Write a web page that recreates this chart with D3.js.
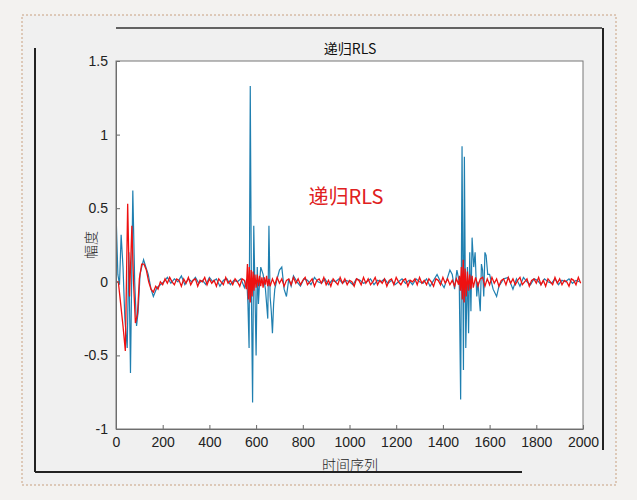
<!DOCTYPE html>
<html><head><meta charset="utf-8">
<script src="https://d3js.org/d3.v7.min.js"></script>
<style>body{margin:0;background:#f3f2f0}</style></head>
<body><svg id="c" width="637" height="500"></svg>
<script>
const title="递归RLS", annot="递归RLS", xLabel="时间序列", yLabel="幅度";
const xTicks=[0,200,400,600,800,1000,1200,1400,1600,1800,2000];
const yTicks=[-1,-0.5,0,0.5,1,1.5];
const blueX=[0,8,15,22,30,38,48,55,62,72,80,88,95,103,110,118,128,138,150,160,175,190,205,220,235,250,265,280,295,310,325,340,355,370,385,400,415,430,445,460,475,490,505,520,535,550,560,565,570,575,580,585,590,595,600,605,610,615,620,630,640,650,655,660,665,670,675,680,690,700,710,720,730,740,750,760,775,790,805,820,835,850,865,880,895,910,925,940,955,970,985,1000,1015,1030,1045,1060,1075,1090,1105,1120,1135,1150,1165,1180,1195,1210,1225,1240,1255,1270,1285,1300,1315,1330,1345,1360,1375,1390,1405,1420,1430,1440,1450,1460,1470,1476,1482,1488,1492,1498,1505,1510,1515,1520,1525,1532,1538,1545,1550,1560,1565,1570,1575,1580,1585,1592,1600,1615,1630,1640,1660,1680,1700,1715,1730,1745,1760,1775,1790,1805,1820,1835,1850,1865,1880,1895,1910,1925,1940,1955,1970,1985,2000];
const blueY=[0.48,0.05,-0.02,0.32,0.1,-0.25,-0.45,0.2,-0.62,0.62,0.0,-0.3,-0.2,0.05,0.1,0.15,0.1,0.05,-0.05,-0.1,-0.04,-0.02,0.0,0.03,-0.01,0.02,0.0,0.04,-0.02,0.02,0.0,0.03,-0.01,0.01,-0.02,0.03,0.0,0.02,-0.03,0.01,0.02,-0.02,0.01,0.0,0.02,-0.04,0.02,-0.15,-0.45,1.33,-0.1,-0.82,0.38,-0.05,-0.5,0.1,-0.15,0.0,0.1,0.05,-0.05,-0.25,0.38,-0.1,-0.2,-0.35,-0.15,-0.05,0.02,0.08,0.1,-0.05,-0.1,0.02,-0.03,0.04,0.0,-0.03,0.02,0.01,-0.02,0.03,0.0,-0.01,0.02,-0.02,0.01,0.0,0.02,-0.01,0.01,0.0,-0.02,0.02,0.01,-0.01,0.0,0.02,-0.02,0.01,0.0,0.02,-0.01,0.01,-0.02,0.0,0.02,-0.01,0.01,-0.02,0.02,0.0,-0.01,0.02,-0.03,0.01,0.05,0.0,-0.04,0.03,0.08,0.05,-0.05,0.08,0.0,-0.8,0.92,-0.6,0.85,-0.45,0.1,-0.35,0.2,-0.2,0.3,0.1,0.2,-0.1,0.0,-0.2,0.12,0.08,-0.1,0.2,0.18,0.05,0.05,-0.05,-0.1,-0.03,0.02,0.03,-0.05,0.02,-0.03,0.03,0.0,-0.02,0.02,0.01,-0.02,0.02,0.0,-0.01,0.02,-0.02,0.01,0.0,0.02,-0.01,0.01,0.0];
const redX=[0,10,20,30,40,50,58,68,75,83,92,100,110,120,130,140,150,160,170,180,190,200,210,220,230,240,250,260,270,280,290,300,310,320,330,340,350,360,370,380,390,400,410,420,430,440,450,460,470,480,490,500,510,520,530,540,550,558,563,567,571,575,579,583,587,591,595,600,605,610,615,620,625,630,635,640,645,650,655,660,670,680,690,700,710,720,730,740,750,760,770,780,790,800,810,820,830,840,850,860,870,880,890,900,910,920,930,940,950,960,970,980,990,1000,1010,1020,1030,1040,1050,1060,1070,1080,1090,1100,1110,1120,1130,1140,1150,1160,1170,1180,1190,1200,1210,1220,1230,1240,1250,1260,1270,1280,1290,1300,1310,1320,1330,1340,1350,1360,1370,1380,1390,1400,1410,1420,1430,1440,1450,1458,1463,1467,1471,1475,1479,1483,1487,1491,1495,1500,1505,1510,1515,1520,1525,1530,1540,1550,1560,1570,1580,1590,1600,1610,1620,1630,1640,1650,1660,1670,1680,1690,1700,1710,1720,1730,1740,1750,1760,1770,1780,1790,1800,1810,1820,1830,1840,1850,1860,1870,1880,1890,1900,1910,1920,1930,1940,1950,1960,1970,1980,1990,2000];
const redY=[0,0,-0.15,-0.3,-0.47,0.53,-0.1,0.38,0.0,-0.28,-0.22,0.02,0.12,0.12,0.08,0.0,-0.05,-0.07,-0.03,-0.05,0.0,-0.02,0.02,-0.01,0.03,0.0,-0.02,0.02,0.01,-0.03,0.02,-0.01,0.03,-0.02,0.01,0.02,-0.03,0.01,0.0,0.03,-0.02,0.02,-0.01,0.01,-0.03,0.02,0.0,-0.02,0.03,-0.01,0.01,-0.02,0.02,0.0,-0.03,0.02,0.01,-0.05,0.12,-0.12,0.1,-0.14,0.08,-0.1,0.07,-0.06,0.05,-0.04,0.05,-0.03,0.04,-0.03,0.03,-0.04,0.03,-0.02,0.04,-0.03,0.02,-0.03,0.02,-0.02,0.03,-0.01,0.02,-0.03,0.01,0.02,-0.02,0.03,-0.01,0.02,-0.02,0.01,0.03,-0.02,0.0,0.02,-0.03,0.01,0.02,-0.01,0.03,-0.02,0.01,-0.03,0.02,0.0,-0.02,0.03,-0.01,0.02,-0.02,0.01,0.0,-0.03,0.02,0.01,-0.02,0.03,-0.01,0.02,-0.02,0.0,0.03,-0.02,0.01,-0.01,0.02,-0.03,0.01,0.02,-0.02,0.03,0.0,-0.02,0.01,0.02,-0.03,0.01,0.0,0.02,-0.02,0.03,-0.01,0.01,-0.02,0.02,0.0,-0.03,0.02,0.01,-0.02,0.03,-0.01,0.02,-0.02,0.01,-0.03,0.02,0.0,-0.02,0.04,-0.06,0.1,-0.12,0.15,-0.14,0.09,-0.1,0.07,-0.06,0.05,-0.05,0.04,-0.04,0.03,-0.03,0.02,0.03,-0.03,0.02,-0.02,0.03,-0.01,0.02,-0.03,0.01,0.02,-0.02,0.03,-0.01,0.02,-0.02,0.01,0.03,-0.02,0.0,0.02,-0.03,0.01,0.02,-0.01,0.03,-0.02,0.01,-0.03,0.02,0.0,-0.02,0.03,-0.01,0.02,-0.02,0.01,0.0,-0.03,0.02,0.01,-0.02,0.03,-0.01];

const svg=d3.select("#c");
svg.append("rect").attr("x",22).attr("y",15).attr("width",594).attr("height",470).attr("fill","#f0f0f0").attr("stroke","#c8a080").attr("stroke-dasharray","2,2");
svg.append("line").attr("x1",116).attr("x2",602).attr("y1",28).attr("y2",28).attr("stroke","#333").attr("stroke-width",1.5);
svg.append("line").attr("x1",35).attr("x2",35).attr("y1",48).attr("y2",472).attr("stroke","#222").attr("stroke-width",2);
svg.append("line").attr("x1",35).attr("x2",522).attr("y1",472).attr("y2",472).attr("stroke","#222").attr("stroke-width",2);
svg.append("line").attr("x1",603).attr("x2",603).attr("y1",28).attr("y2",450).attr("stroke","#222").attr("stroke-width",2);

const L=116,R=583,T=61,B=429;
const x=d3.scaleLinear().domain([0,2000]).range([L,R]);
const y=d3.scaleLinear().domain([-1,1.5]).range([B,T]);
svg.append("rect").attr("x",L).attr("y",T).attr("width",R-L).attr("height",B-T).attr("fill","#fff");
svg.append("clipPath").attr("id","cl").append("rect").attr("x",L).attr("y",T).attr("width",R-L).attr("height",B-T);
const g=svg.append("g").attr("clip-path","url(#cl)");
const line=d3.line().x(d=>x(d[0])).y(d=>y(d[1]));
g.append("path").datum(blueX.map((v,i)=>[v,blueY[i]])).attr("d",line).attr("fill","none").attr("stroke","#1f7fb0").attr("stroke-width",1.2);
g.append("path").datum(redX.map((v,i)=>[v,redY[i]])).attr("d",line).attr("fill","none").attr("stroke","#ee1111").attr("stroke-width",1.3);

const font="Liberation Sans, Arial, sans-serif";
const xa=svg.append("g").attr("transform",`translate(0,${B})`).call(d3.axisBottom(x).tickValues(xTicks).tickSizeInner(-4).tickSizeOuter(0).tickPadding(8).tickFormat(d3.format("d")));
const ya=svg.append("g").attr("transform",`translate(${L},0)`).call(d3.axisLeft(y).tickValues(yTicks).tickSizeInner(-4).tickSizeOuter(0).tickPadding(8).tickFormat(d=>d===0?"0":String(d)));
[xa,ya].forEach(a=>{a.selectAll("text").attr("font-family",font).attr("font-size",14).attr("fill","#222");a.selectAll("line,path").attr("stroke","#666");});
svg.append("rect").attr("x",L).attr("y",T).attr("width",R-L).attr("height",B-T).attr("fill","none").attr("stroke","#777");

svg.append("text").attr("x",350).attr("y",54).attr("text-anchor","middle").attr("font-family","Noto Sans CJK SC").attr("font-size",14).attr("fill","#111").text(title);
svg.append("text").attr("x",346).attr("y",204).attr("text-anchor","middle").attr("font-family","Noto Sans CJK SC").attr("font-size",20).attr("fill","#e02020").text(annot);
svg.append("text").attr("x",350).attr("y",470).attr("text-anchor","middle").attr("font-family","Noto Sans CJK SC").attr("font-size",14).attr("font-weight",300).attr("fill","#222").text(xLabel);
svg.append("text").attr("transform","translate(96,245) rotate(-90)").attr("text-anchor","middle").attr("font-family","Noto Sans CJK SC").attr("font-size",14).attr("font-weight",300).attr("fill","#222").text(yLabel);
</script></body></html>
